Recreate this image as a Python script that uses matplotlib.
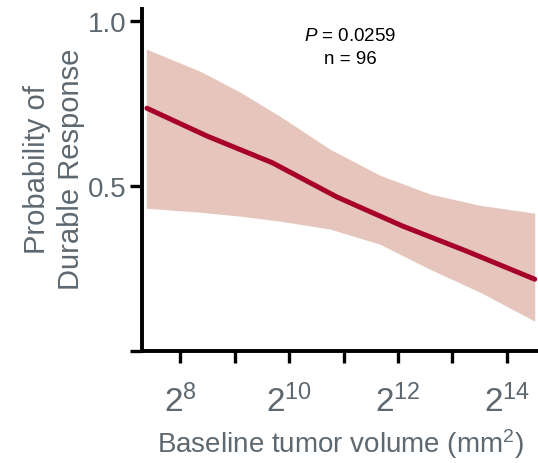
import math
import matplotlib
matplotlib.use("Agg")
import matplotlib.pyplot as plt
from matplotlib.ticker import FixedLocator, FuncFormatter

plt.rcParams['font.family'] = ['Liberation Sans', 'DejaVu Sans']
plt.rcParams['mathtext.fontset'] = 'custom'
plt.rcParams['mathtext.rm'] = 'Liberation Sans'
plt.rcParams['mathtext.it'] = 'Liberation Sans:italic'

GREY = "#5d6870"
LINE = "#a6002b"
BAND = "#e6c6bc"

# fitted probability, x as log2(baseline volume)
fit_log2 = [7.39, 8.49, 9.69, 10.88, 12.07, 13.26, 14.51]
fit_prob = [0.736, 0.652, 0.571, 0.467, 0.380, 0.303, 0.218]

# confidence band
band_log2 = [7.38, 8.37, 9.10, 9.83, 10.75, 11.67, 12.59, 13.50, 14.51]
band_hi = [0.915, 0.848, 0.785, 0.712, 0.612, 0.533, 0.476, 0.442, 0.418]
band_lo = [0.433, 0.421, 0.409, 0.394, 0.370, 0.324, 0.248, 0.179, 0.091]

major_exp = [8, 10, 12, 14]
minor_exp = [9, 11, 13]

fig = plt.figure(figsize=(5.38, 4.64), dpi=100)
ax = fig.add_axes([0.264, 0.241, 0.736, 0.737])

ax.fill_between([2 ** v for v in band_log2], band_lo, band_hi, color=BAND, lw=0)
ax.plot([2 ** v for v in fit_log2], fit_prob, color=LINE, lw=3.6, solid_capstyle='round')

ax.set_xscale('log', base=2)
ax.set_xlim(2 ** 7.30, 2 ** 14.57)
ax.set_ylim(0, 1.036)

ax.xaxis.set_major_locator(FixedLocator([2 ** e for e in major_exp]))
ax.xaxis.set_minor_locator(FixedLocator([2 ** e for e in minor_exp]))
ax.xaxis.set_major_formatter(FuncFormatter(
    lambda x, p: r"$\mathregular{2^{%d}}$" % round(math.log2(x))))
ax.xaxis.set_minor_formatter(FuncFormatter(lambda x, p: ""))
ax.set_yticks([0, 0.5, 1.0])
ax.set_yticklabels(["", "0.5", "1.0"])

for s in ['top', 'right']:
    ax.spines[s].set_visible(False)
for s in ['left', 'bottom']:
    ax.spines[s].set_linewidth(2.8)

ax.tick_params(axis='both', which='both', direction='out', length=8.5, width=2.4, color='black')
ax.tick_params(axis='x', which='major', labelsize=24, labelcolor=GREY, pad=15)
ax.tick_params(axis='y', labelsize=20, labelcolor=GREY, pad=3)

ax.set_xlabel("Baseline tumor volume (mm$^{2}$)", fontsize=20, color=GREY, labelpad=6)
ax.set_ylabel("Probability of\nDurable Response", fontsize=21, color=GREY,
              linespacing=1.25)
ax.yaxis.set_label_coords(-0.145, 0.535)

ax.text(0.525, 0.89, "$P$ = 0.0259\nn = 96", transform=ax.transAxes,
        ha='center', va='center', fontsize=13.5, color='black', linespacing=1.45)

fig.savefig("out.png", dpi=100)
